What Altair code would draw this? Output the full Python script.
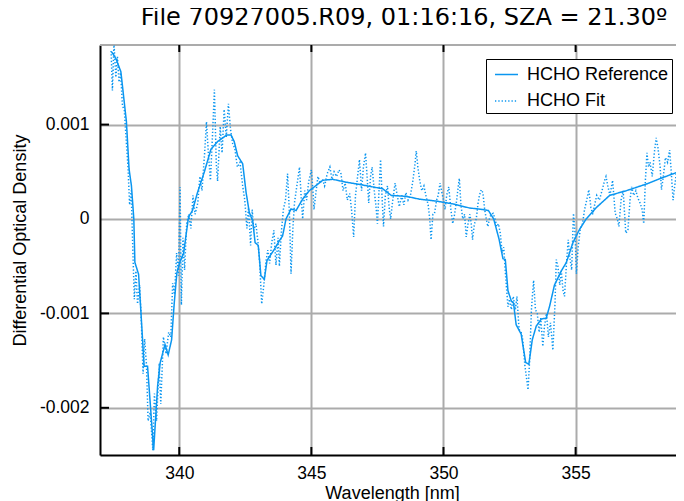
import altair as alt
import pandas as pd

# ---- data (values in units of 1e-3 differential optical density) ----
ref_wl = [337.44, 337.60, 337.79, 338.00, 338.10, 338.19, 338.28, 338.32, 338.46, 338.55,
          338.67, 338.80, 339.03, 339.18, 339.28, 339.46, 339.58, 339.71, 339.81, 339.91,
          340.04, 340.16, 340.34, 340.38, 340.50, 340.69, 340.95, 341.20, 341.45, 341.80,
          341.96, 342.08, 342.21, 342.40, 342.53, 342.65, 342.78, 342.87, 342.99, 343.09,
          343.22, 343.32, 343.60, 343.79, 343.91, 344.04, 344.23, 344.42, 344.67, 344.92,
          345.11, 345.43, 345.81, 346.31, 346.94, 347.70, 348.02, 348.59, 349.09, 349.72,
          350.35, 350.98, 351.49, 351.70, 351.90, 352.10, 352.25, 352.34, 352.44, 352.57,
          352.65, 352.75, 352.94, 353.11, 353.23, 353.36, 353.51, 353.70, 353.89, 354.02,
          354.20, 354.46, 354.65, 354.90, 355.15, 355.40, 355.78, 356.29, 356.92, 357.68,
          358.31, 359.00, 359.10]
ref_val = [1.77, 1.70, 1.56, 1.03, 0.53, 0.35, 0.00, -0.46, -0.585, -0.99,
           -1.56, -1.56, -2.45, -1.77, -1.52, -1.33, -1.44, -1.28, -0.89, -0.57,
           -0.44, -0.37, 0.00, 0.035, 0.09, 0.28, 0.50, 0.74, 0.82, 0.89,
           0.89, 0.82, 0.67, 0.585, 0.28, 0.07, -0.02, -0.25, -0.28, -0.60,
           -0.64, -0.44, -0.32, -0.23, -0.18, 0.00, 0.106, 0.09, 0.21, 0.30,
           0.34, 0.41, 0.42, 0.39, 0.36, 0.32, 0.25, 0.24, 0.21, 0.19,
           0.16, 0.117, 0.10, 0.09, 0.00, -0.21, -0.42, -0.43, -0.76, -0.87,
           -0.89, -1.12, -1.22, -1.52, -1.54, -1.28, -1.135, -1.06, -1.05, -0.92,
           -0.70, -0.55, -0.46, -0.25, -0.11, 0.00, 0.12, 0.25, 0.30, 0.37,
           0.44, 0.51, 0.52]

fit_wl = [337.42, 337.47, 337.53, 337.60, 337.66, 337.72, 337.78, 337.85, 337.92, 338.00,
          338.06, 338.12, 338.18, 338.24, 338.30, 338.36, 338.42, 338.50, 338.56, 338.63,
          338.69, 338.76, 338.82, 338.90, 339.00, 339.06, 339.14, 339.24, 339.30, 339.40,
          339.50, 339.60, 339.68, 339.75, 339.82, 339.90, 339.97, 340.03, 340.08, 340.14,
          340.20, 340.28, 340.36, 340.44, 340.52, 340.60, 340.70, 340.78, 340.86, 340.96,
          341.03, 341.10, 341.18, 341.26, 341.33, 341.40, 341.45, 341.55, 341.62, 341.70,
          341.78, 341.86, 341.94, 342.02, 342.10, 342.20, 342.30, 342.40, 342.48, 342.56,
          342.62, 342.70, 342.76, 342.82, 342.90, 342.97, 343.04, 343.12, 343.20, 343.28,
          343.35, 343.42, 343.50, 343.58, 343.66, 343.74, 343.79, 343.86, 343.94, 344.02,
          344.10, 344.17, 344.23, 344.30, 344.36, 344.45, 344.55, 344.62, 344.67, 344.75,
          344.82, 344.90, 345.00, 345.06, 345.10, 345.18, 345.25, 345.33, 345.42, 345.50,
          345.60, 345.70, 345.78, 345.86, 345.95, 346.05, 346.12, 346.20, 346.28, 346.36,
          346.45, 346.52, 346.60, 346.67, 346.75, 346.82, 346.90, 346.97, 347.05, 347.12,
          347.17, 347.24, 347.30, 347.38, 347.44, 347.50, 347.56, 347.62, 347.68, 347.73,
          347.80, 347.88, 347.95, 348.00, 348.08, 348.17, 348.25, 348.33, 348.42, 348.50,
          348.58, 348.66, 348.75, 348.84, 348.92, 348.97, 349.03, 349.10, 349.18, 349.26,
          349.34, 349.42, 349.48, 349.53, 349.60, 349.66, 349.74, 349.80, 349.87, 349.94,
          350.00, 350.06, 350.12, 350.20, 350.28, 350.35, 350.42, 350.50, 350.56, 350.60,
          350.66, 350.73, 350.80, 350.86, 350.93, 351.00, 351.05, 351.10, 351.17, 351.24,
          351.30, 351.36, 351.43, 351.49, 351.56, 351.62, 351.68, 351.75, 351.82, 351.88,
          351.95, 352.02, 352.08, 352.15, 352.22, 352.28, 352.35, 352.44, 352.50, 352.57,
          352.64, 352.72, 352.78, 352.86, 352.94, 353.00, 353.08, 353.15, 353.20, 353.26,
          353.33, 353.41, 353.48, 353.55, 353.62, 353.68, 353.76, 353.82, 353.90, 353.97,
          354.05, 354.14, 354.22, 354.27, 354.33, 354.40, 354.46, 354.52, 354.58, 354.66,
          354.72, 354.78, 354.85, 354.92, 354.98, 355.03, 355.10, 355.18, 355.26, 355.34,
          355.42, 355.50, 355.58, 355.65, 355.72, 355.80, 355.90, 356.00, 356.10, 356.15,
          356.22, 356.30, 356.40, 356.50, 356.58, 356.64, 356.72, 356.80, 356.90, 356.98,
          357.06, 357.12, 357.20, 357.28, 357.36, 357.44, 357.52, 357.58, 357.64, 357.70,
          357.76, 357.82, 357.90, 357.98, 358.05, 358.12, 358.20, 358.25, 358.32, 358.40,
          358.48, 358.56, 358.62, 358.69, 358.75, 358.82, 358.90, 358.97, 359.05, 359.10]
fit_val = [1.78, 1.36, 1.86, 1.50, 1.72, 1.45, 1.55, 1.20, 1.15, 0.80,
           0.55, 0.15, 0.30, -0.30, -0.85, -0.55, -0.90, -0.70, -1.05, -1.64,
           -1.27, -1.55, -2.14, -2.05, -2.45, -1.85, -2.14, -1.53, -1.96, -1.25,
           -1.43, -1.20, -1.25, -0.68, -0.80, -0.36, -0.60, 0.34, -0.91, -0.20,
           -0.54, -0.05, 0.05, -0.10, 0.25, 0.05, 0.17, 0.45, 0.30, 0.70,
           1.03, 0.70, 0.41, 0.90, 1.37, 0.59, 0.40, 0.98, 0.70, 1.16,
           0.87, 1.22, 0.95, 0.80, 0.75, 0.55, 0.60, 0.35, 0.20, -0.10,
           0.12, -0.28, 0.10, -0.12, -0.05, -0.22, -0.45, -0.90, -0.70, -0.45,
           -0.33, -0.47, -0.25, -0.12, -0.49, -0.20, -0.50, -0.15, 0.10, 0.20,
           0.48, 0.05, -0.58, -0.10, 0.17, 0.35, 0.55, 0.20, 0.00, 0.30,
           0.20, 0.40, 0.52, 0.30, 0.10, 0.30, 0.45, 0.38, 0.42, 0.35,
           0.48, 0.55, 0.42, 0.50, 0.45, 0.52, 0.48, 0.30, 0.38, 0.20,
           0.27, 0.10, -0.19, 0.25, 0.45, 0.63, 0.30, 0.55, 0.70, 0.40,
           0.17, 0.45, 0.55, 0.30, 0.15, -0.05, 0.30, 0.63, 0.20, -0.08,
           0.25, 0.35, 0.10, 0.00, 0.20, 0.38, 0.25, 0.13, 0.25, 0.15,
           0.28, 0.20, 0.25, 0.40, 0.58, 0.72, 0.55, 0.41, 0.30, 0.35,
           0.24, 0.15, 0.00, -0.22, 0.05, 0.06, 0.20, 0.25, 0.38, 0.28,
           0.20, 0.10, 0.25, 0.34, 0.10, -0.05, 0.05, 0.20, 0.35, 0.43,
           0.15, 0.00, 0.05, -0.19, -0.05, 0.05, -0.05, -0.22, -0.05, 0.00,
           0.15, 0.25, 0.31, 0.28, 0.10, 0.00, -0.08, 0.02, 0.05, 0.06,
           0.00, -0.08, -0.05, -0.15, -0.36, -0.30, -0.60, -0.93, -0.85, -0.96,
           -0.82, -0.96, -0.82, -1.17, -1.20, -1.28, -1.55, -1.70, -1.81, -1.50,
           -0.95, -0.65, -0.96, -1.00, -1.20, -1.05, -1.35, -1.14, -1.00, -1.25,
           -1.10, -1.39, -0.90, -0.43, -0.50, -0.70, -0.55, -0.75, -0.82, -0.45,
           -0.22, -0.40, -0.54, 0.06, -0.15, -0.58, -0.29, -0.10, -0.05, 0.10,
           0.20, 0.31, 0.12, 0.05, 0.15, 0.25, 0.20, 0.30, 0.41, 0.45,
           0.35, 0.25, 0.41, 0.06, 0.00, -0.08, 0.20, 0.30, -0.15, -0.12,
           0.20, 0.34, 0.25, 0.30, 0.22, 0.17, 0.10, -0.05, 0.40, 0.70,
           0.55, 0.60, 0.45, 0.70, 0.86, 0.75, 0.55, 0.31, 0.45, 0.65,
           0.60, 0.73, 0.50, 0.20, 0.35, 0.50, 0.40, 0.38, 0.55, 0.45]

series_names = ["HCHO Reference", "HCHO Fit"]
x_ticks = [340, 345, 350, 355]
y_ticks = [0.001, 0.0, -0.001, -0.002]
y_ticks_marked = [0.001, -0.001, -0.002]

title_text = "File 70927005.R09, 01:16:16, SZA = 21.30º"

# ---- build table ----
df = pd.concat([
    pd.DataFrame({"wl": ref_wl, "val": [v * 1e-3 for v in ref_val], "series": series_names[0]}),
    pd.DataFrame({"wl": fit_wl, "val": [v * 1e-3 for v in fit_val], "series": series_names[1]}),
], ignore_index=True)

BLUE = "#0b96f0"
GRID = "#ababab"
FONT = "Liberation Sans"
W, H = 576, 410

x_scale = alt.Scale(domain=[337.0, 358.8], nice=False, zero=False)
y_scale = alt.Scale(domain=[-0.0025, 0.001843], nice=False, zero=False)

x_axis = alt.Axis(values=x_ticks, format="d", title="Wavelength [nm]", grid=True,
                  gridColor=GRID, gridWidth=2, gridOpacity=1, domainColor="black", domainWidth=2,
                  ticks=False, tickSize=0, labelPadding=9, labelFont=FONT, labelFontSize=17.5,
                  labelColor="black", titleFont=FONT, titleFontSize=18, titleFontWeight="normal",
                  titleColor="black", titleX=292, titleY=43, titleAlign="center",
                  titleBaseline="alphabetic")
y_axis = alt.Axis(values=y_ticks, title="Differential Optical Density", grid=True,
                  gridColor=GRID, gridWidth=2, gridOpacity=1, domainColor="black", domainWidth=2,
                  ticks=False, tickSize=0, labelPadding=11, labelFont=FONT, labelFontSize=17.5,
                  labelColor="black",
                  labelExpr="datum.value == 0 ? '0' : (datum.value < 0 ? '-' : '') + format(abs(datum.value), '.3f')",
                  titleFont=FONT, titleFontSize=18, titleFontWeight="normal", titleColor="black",
                  titleX=-80, titleY=195, titleAngle=-90, titleAlign="center", titleBaseline="middle")

legend = alt.Legend(title=None, orient="none", legendX=386, legendY=14, symbolType="stroke",
                    symbolSize=529, symbolStrokeWidth=1.6, symbolOffset=5,
                    labelFont=FONT, labelFontSize=18, labelColor="black", labelOffset=8,
                    padding=3, rowPadding=4.5, strokeColor="black", fillColor="white",
                    cornerRadius=0)

color = alt.Color("series:N", scale=alt.Scale(domain=series_names, range=[BLUE, BLUE]), legend=legend)
dash = alt.StrokeDash("series:N", scale=alt.Scale(domain=series_names, range=[[1, 0], [1.3, 2]]), legend=legend)

X = alt.X("wl:Q", scale=x_scale, axis=x_axis)
Y = alt.Y("val:Q", scale=y_scale, axis=y_axis)

fit_layer = alt.Chart(df).transform_filter(alt.datum.series == series_names[1]).mark_line(
    strokeWidth=1.5, clip=True).encode(x=X, y=Y, color=color, strokeDash=dash)
ref_layer = alt.Chart(df).transform_filter(alt.datum.series == series_names[0]).mark_line(
    strokeWidth=1.5, clip=True).encode(x=X, y=Y, color=color, strokeDash=dash)

top_border = alt.Chart(pd.DataFrame({"wl": [337.0]})).mark_rule(color=GRID, strokeWidth=2).encode(
    x=alt.value(0), x2=alt.value(W), y=alt.value(0))

xt = pd.DataFrame({"wl": x_ticks})
bottom_ticks = alt.Chart(xt).mark_rule(color="black", strokeWidth=2).encode(
    x=X, y=alt.value(H), y2=alt.value(H - 8))
top_ticks = alt.Chart(xt).mark_rule(color="black", strokeWidth=2).encode(
    x=X, y=alt.value(0), y2=alt.value(7))
yt = pd.DataFrame({"val": y_ticks_marked})
left_ticks = alt.Chart(yt).mark_rule(color="black", strokeWidth=2).encode(
    y=Y, x=alt.value(0), x2=alt.value(9))

chart = alt.layer(top_border, fit_layer, ref_layer, bottom_ticks, top_ticks, left_ticks).properties(
    width=W, height=H,
    title=alt.TitleParams(title_text, font="DejaVu Sans", fontSize=24, fontWeight="normal",
                          color="black", anchor="middle", dx=16, offset=14),
    autosize=alt.AutoSizeParams(type="none"),
    padding={"left": 92, "top": 37, "right": 0, "bottom": 46},
).configure_view(stroke=None).configure(background="white")

chart.save("out.html", embed_options={"renderer": "svg", "actions": False})
